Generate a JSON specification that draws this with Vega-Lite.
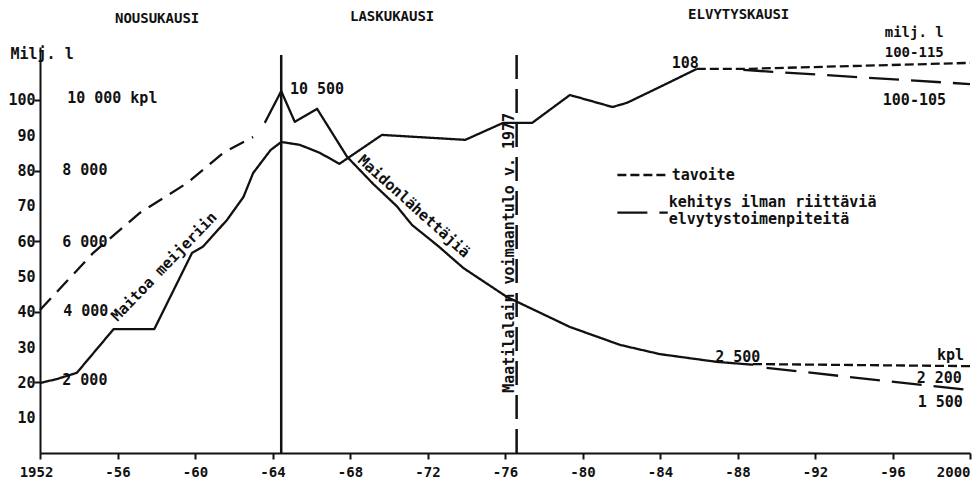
{
  "$schema": "https://vega.github.io/schema/vega-lite/v6.json",
  "width": 930,
  "height": 406,
  "autosize": {"type": "none"},
  "padding": {"left": 40, "top": 47, "right": 8, "bottom": 38},
  "background": "white",
  "config": {
    "view": {"stroke": null},
    "font": "DejaVu Sans Mono",
    "axis": {"grid": false, "domainColor": "#111", "tickColor": "#111", "labelColor": "#111", "titleColor": "#111", "domainWidth": 2, "tickWidth": 2, "labelFont": "DejaVu Sans Mono", "titleFont": "DejaVu Sans Mono", "labelFontWeight": "bold", "titleFontWeight": "bold"}
  },
  "datasets": {
    "lines": [
      {"series": "milk", "kind": "toteutunut", "year": 1952.0, "value": 19.8},
      {"series": "milk", "kind": "toteutunut", "year": 1952.9, "value": 21.0},
      {"series": "milk", "kind": "toteutunut", "year": 1953.9, "value": 22.7},
      {"series": "milk", "kind": "toteutunut", "year": 1955.8, "value": 35.1},
      {"series": "milk", "kind": "toteutunut", "year": 1957.9, "value": 35.1},
      {"series": "milk", "kind": "toteutunut", "year": 1959.85, "value": 56.7},
      {"series": "milk", "kind": "toteutunut", "year": 1960.4, "value": 58.4},
      {"series": "milk", "kind": "toteutunut", "year": 1961.65, "value": 66.0},
      {"series": "milk", "kind": "toteutunut", "year": 1962.5, "value": 72.5},
      {"series": "milk", "kind": "toteutunut", "year": 1963.0, "value": 79.3},
      {"series": "milk", "kind": "toteutunut", "year": 1963.9, "value": 85.8},
      {"series": "milk", "kind": "toteutunut", "year": 1964.45, "value": 88.1},
      {"series": "milk", "kind": "toteutunut", "year": 1965.4, "value": 87.3},
      {"series": "milk", "kind": "toteutunut", "year": 1966.45, "value": 85.0},
      {"series": "milk", "kind": "toteutunut", "year": 1967.45, "value": 81.9},
      {"series": "milk", "kind": "toteutunut", "year": 1969.65, "value": 90.1},
      {"series": "milk", "kind": "toteutunut", "year": 1973.95, "value": 88.7},
      {"series": "milk", "kind": "toteutunut", "year": 1975.9, "value": 93.5},
      {"series": "milk", "kind": "toteutunut", "year": 1977.4, "value": 93.5},
      {"series": "milk", "kind": "toteutunut", "year": 1979.35, "value": 101.4},
      {"series": "milk", "kind": "toteutunut", "year": 1981.55, "value": 98.0},
      {"series": "milk", "kind": "toteutunut", "year": 1982.3, "value": 99.2},
      {"series": "milk", "kind": "toteutunut", "year": 1984.0, "value": 103.7},
      {"series": "milk", "kind": "toteutunut", "year": 1985.9, "value": 108.8},
      {"series": "milk_goal", "kind": "tavoite", "year": 1985.9, "value": 108.8},
      {"series": "milk_goal", "kind": "tavoite", "year": 1988.4, "value": 108.8},
      {"series": "milk_goal", "kind": "tavoite", "year": 2000, "value": 110.5},
      {"series": "milk_trend", "kind": "kehitys", "year": 1988.3, "value": 108.5},
      {"series": "milk_trend", "kind": "kehitys", "year": 2000, "value": 104.5},
      {"series": "sup_est", "kind": "arvio", "year": 1952.0, "value": 40.5},
      {"series": "sup_est", "kind": "arvio", "year": 1954.75, "value": 56.7},
      {"series": "sup_est", "kind": "arvio", "year": 1957.15, "value": 68.0},
      {"series": "sup_est", "kind": "arvio", "year": 1959.6, "value": 76.5},
      {"series": "sup_est", "kind": "arvio", "year": 1961.45, "value": 85.0},
      {"series": "sup_est", "kind": "arvio", "year": 1963.0, "value": 89.5},
      {"series": "sup", "kind": "toteutunut", "year": 1963.6, "value": 93.5},
      {"series": "sup", "kind": "toteutunut", "year": 1964.45, "value": 102.5},
      {"series": "sup", "kind": "toteutunut", "year": 1965.15, "value": 93.8},
      {"series": "sup", "kind": "toteutunut", "year": 1966.3, "value": 97.5},
      {"series": "sup", "kind": "toteutunut", "year": 1967.85, "value": 83.9},
      {"series": "sup", "kind": "toteutunut", "year": 1969.2, "value": 76.2},
      {"series": "sup", "kind": "toteutunut", "year": 1970.4, "value": 70.0},
      {"series": "sup", "kind": "toteutunut", "year": 1971.2, "value": 64.6},
      {"series": "sup", "kind": "toteutunut", "year": 1972.6, "value": 58.4},
      {"series": "sup", "kind": "toteutunut", "year": 1973.85, "value": 52.4},
      {"series": "sup", "kind": "toteutunut", "year": 1976.1, "value": 44.2},
      {"series": "sup", "kind": "toteutunut", "year": 1979.35, "value": 35.7},
      {"series": "sup", "kind": "toteutunut", "year": 1981.95, "value": 30.6},
      {"series": "sup", "kind": "toteutunut", "year": 1984.0, "value": 28.0},
      {"series": "sup", "kind": "toteutunut", "year": 1986.95, "value": 25.8},
      {"series": "sup", "kind": "toteutunut", "year": 1988.8, "value": 25.0},
      {"series": "sup_goal", "kind": "tavoite", "year": 1988.8, "value": 25.2},
      {"series": "sup_goal", "kind": "tavoite", "year": 2000, "value": 24.6},
      {"series": "sup_trend", "kind": "kehitys", "year": 1989.5, "value": 24.1},
      {"series": "sup_trend", "kind": "kehitys", "year": 2000, "value": 17.8},
      {"series": "leg_goal", "kind": "tavoite", "year": 1981.8, "value": 78.75},
      {"series": "leg_goal", "kind": "tavoite", "year": 1984.4, "value": 78.75},
      {"series": "leg_trend", "kind": "kehitys", "year": 1981.8, "value": 68.1},
      {"series": "leg_trend", "kind": "kehitys", "year": 1984.4, "value": 68.1}
    ],
    "verticals": [
      {"year": 1964.45, "value": 0, "top": 112.7, "kind": "raja"},
      {"year": 1976.6, "value": 0, "top": 113.3, "kind": "laki"}
    ],
    "texts": [
      {"label": "10 000 kpl", "year": 1953.4, "value": 100.5},
      {"label": "8 000", "year": 1953.15, "value": 80.2},
      {"label": "6 000", "year": 1953.15, "value": 59.8},
      {"label": "4 000", "year": 1953.2, "value": 40.2},
      {"label": "2 000", "year": 1953.15, "value": 20.7},
      {"label": "10 500", "year": 1964.9, "value": 103.1},
      {"label": "108", "year": 1984.6, "value": 110.5},
      {"label": "100-105", "year": 1995.5, "value": 100},
      {"label": "tavoite", "year": 1984.6, "value": 78.75},
      {"label": "kehitys ilman riittäviä", "year": 1984.45, "value": 71.1},
      {"label": "elvytystoimenpiteitä", "year": 1984.45, "value": 66.3},
      {"label": "2 500", "year": 1986.85, "value": 27.2},
      {"label": "kpl", "year": 1998.3, "value": 27.8},
      {"label": "2 200", "year": 1997.25, "value": 21.2},
      {"label": "1 500", "year": 1997.3, "value": 14.4}
    ],
    "smalltexts": [
      {"label": "milj. l", "year": 1995.6, "value": 119.0},
      {"label": "100-115", "year": 1995.6, "value": 113.3}
    ],
    "headers": [
      {"label": "NOUSUKAUSI", "year": 1955.87, "value": 123},
      {"label": "LASKUKAUSI", "year": 1968.0, "value": 123.5},
      {"label": "ELVYTYSKAUSI", "year": 1985.45, "value": 124}
    ]
  },
  "encoding": {
    "x": {
      "field": "year", "type": "quantitative",
      "scale": {"domain": [1952, 2000], "nice": false, "zero": false},
      "axis": {
        "title": null,
        "values": [1952, 1956, 1960, 1964, 1968, 1972, 1976, 1980, 1984, 1988, 1992, 1996, 2000],
        "labelExpr": "datum.value == 1952 || datum.value == 2000 ? '' + datum.value : '-' + substring('' + datum.value, 2, 4)",
        "tickSize": 6,
        "labelPadding": 6,
        "labelFontSize": 14,
        "labelFlush": false,
        "labelAlign": {"condition": {"test": "datum.value == 2000", "value": "right"}, "value": "center"},
        "labelOffset": {"condition": {"test": "datum.value == 1952", "value": -4}, "value": 0}
      }
    },
    "y": {
      "field": "value", "type": "quantitative",
      "scale": {"domain": [0, 115], "nice": false, "zero": true},
      "axis": {
        "title": "Milj. l",
        "titleAngle": 0,
        "titleAlign": "left",
        "titleBaseline": "middle",
        "titleX": -30,
        "titleY": 6,
        "titleFontSize": 15,
        "values": [10, 20, 30, 40, 50, 60, 70, 80, 90, 100],
        "tickSize": 6,
        "tickOpacity": {"condition": {"test": "datum.value % 20 == 0", "value": 1}, "value": 0},
        "labelPadding": -1,
        "labelFontSize": 15
      }
    }
  },
  "layer": [
    {
      "data": {"name": "lines"},
      "mark": {"type": "line", "strokeWidth": 2.3, "color": "#111", "strokeCap": "butt", "strokeJoin": "round"},
      "encoding": {
        "detail": {"field": "series", "type": "nominal"},
        "strokeDash": {
          "field": "kind", "type": "nominal",
          "scale": {"domain": ["toteutunut", "arvio", "tavoite", "kehitys", "raja", "laki"], "range": [[1, 0], [16, 9], [9, 4], [30, 12], [1, 0], [24, 10]]},
          "legend": null
        }
      }
    },
    {
      "data": {"name": "verticals"},
      "mark": {"type": "rule", "strokeWidth": 2.5, "color": "#111"},
      "encoding": {
        "y2": {"field": "top"},
        "strokeDash": {
          "field": "kind", "type": "nominal",
          "scale": {"domain": ["toteutunut", "arvio", "tavoite", "kehitys", "raja", "laki"], "range": [[1, 0], [16, 9], [9, 4], [30, 12], [1, 0], [24, 10]]},
          "legend": null
        }
      }
    },
    {
      "data": {"name": "texts"},
      "mark": {"type": "text", "align": "left", "baseline": "middle", "fontSize": 15, "fontWeight": "bold", "font": "DejaVu Sans Mono", "color": "#111"},
      "encoding": {"text": {"field": "label", "type": "nominal"}}
    },
    {
      "data": {"name": "smalltexts"},
      "mark": {"type": "text", "align": "left", "baseline": "middle", "fontSize": 14, "fontWeight": "bold", "font": "DejaVu Sans Mono", "color": "#111"},
      "encoding": {"text": {"field": "label", "type": "nominal"}}
    },
    {
      "data": {"name": "headers"},
      "mark": {"type": "text", "align": "left", "baseline": "middle", "fontSize": 14, "fontWeight": "bold", "font": "DejaVu Sans Mono", "color": "#111"},
      "encoding": {"text": {"field": "label", "type": "nominal"}}
    },
    {
      "data": {"values": [{"label": "Maitoa meijeriin", "year": 1958.4, "value": 52.8}]},
      "mark": {"type": "text", "align": "center", "baseline": "middle", "angle": -46, "fontSize": 15, "fontWeight": "bold", "font": "DejaVu Sans Mono", "color": "#111"},
      "encoding": {"text": {"field": "label", "type": "nominal"}}
    },
    {
      "data": {"values": [{"label": "Maidonlähettäjiä", "year": 1971.3, "value": 69.9}]},
      "mark": {"type": "text", "align": "center", "baseline": "middle", "angle": 42, "fontSize": 15, "fontWeight": "bold", "font": "DejaVu Sans Mono", "color": "#111"},
      "encoding": {"text": {"field": "label", "type": "nominal"}}
    },
    {
      "data": {"values": [{"label": "Maatilalain voimaantulo v. 1977", "year": 1976.2, "value": 56.7}]},
      "mark": {"type": "text", "align": "center", "baseline": "middle", "angle": -90, "fontSize": 15, "fontWeight": "bold", "font": "DejaVu Sans Mono", "color": "#111"},
      "encoding": {"text": {"field": "label", "type": "nominal"}}
    }
  ]
}
